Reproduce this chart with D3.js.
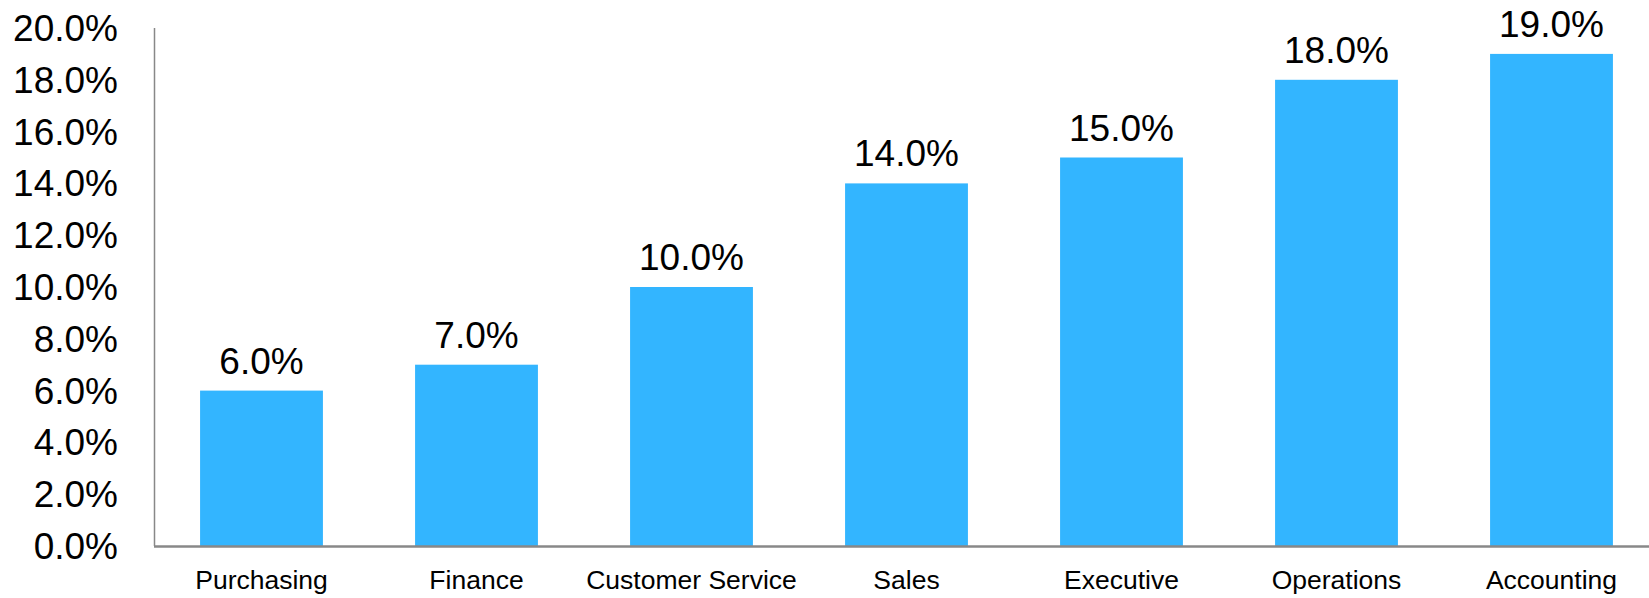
<!DOCTYPE html>
<html><head><meta charset="utf-8">
<script src="https://cdn.jsdelivr.net/npm/d3@7"></script>
<style>html,body{margin:0;padding:0;background:#fff;overflow:hidden}</style>
</head><body>
<svg id="c" width="1649" height="598"></svg>
<script>
const categories = ["Purchasing","Finance","Customer Service","Sales","Executive","Operations","Accounting"];
const values = [6.0, 7.0, 10.0, 14.0, 15.0, 18.0, 19.0];
const yTicks = [0,2,4,6,8,10,12,14,16,18,20];

const FONT = "'Liberation Sans',Arial,sans-serif";
const svg = d3.select("#c");
const mLeft = 154, mRight = 1659, mTop = 28, mBottom = 546;

const x = d3.scaleBand().domain(categories).range([mLeft, mRight]).paddingInner(0.4286).paddingOuter(0.2143);
const y = d3.scaleLinear().domain([0, 20]).range([mBottom, mTop]);

// bars
svg.append("g").selectAll("rect").data(values).join("rect")
  .attr("x", (d,i) => x(categories[i]))
  .attr("y", d => y(d))
  .attr("width", x.bandwidth())
  .attr("height", d => y(0) - y(d))
  .attr("fill", "#33B5FF");

// y axis
const yAxis = svg.append("g").attr("transform", `translate(${mLeft},0)`)
  .call(d3.axisLeft(y).tickValues(yTicks).tickSize(0).tickPadding(36).tickFormat(d => d.toFixed(1) + "%"));
yAxis.select(".domain").attr("stroke", "#888").attr("stroke-width", 1.5).attr("d", `M0.5,${mTop}V${mBottom}`);
yAxis.selectAll("text").attr("font-family", FONT).attr("font-size", 37).attr("fill", "#000").attr("dy", "0.34em");

// x axis
const xAxis = svg.append("g").attr("transform", `translate(0,${mBottom})`)
  .call(d3.axisBottom(x).tickSize(0).tickPadding(24));
xAxis.select(".domain").attr("stroke", "#888").attr("stroke-width", 2.5).attr("d", `M${mLeft},0.5H1649`);
xAxis.selectAll("text").attr("font-family", FONT).attr("font-size", 26.5).attr("fill", "#000").attr("dy", "0.71em");

// data labels
svg.append("g").selectAll("text").data(values).join("text")
  .attr("x", (d,i) => x(categories[i]) + x.bandwidth()/2)
  .attr("y", d => y(d) - 17)
  .attr("text-anchor", "middle")
  .attr("font-family", FONT).attr("font-size", 37).attr("fill", "#000")
  .text(d => d.toFixed(1) + "%");
</script>
</body></html>
